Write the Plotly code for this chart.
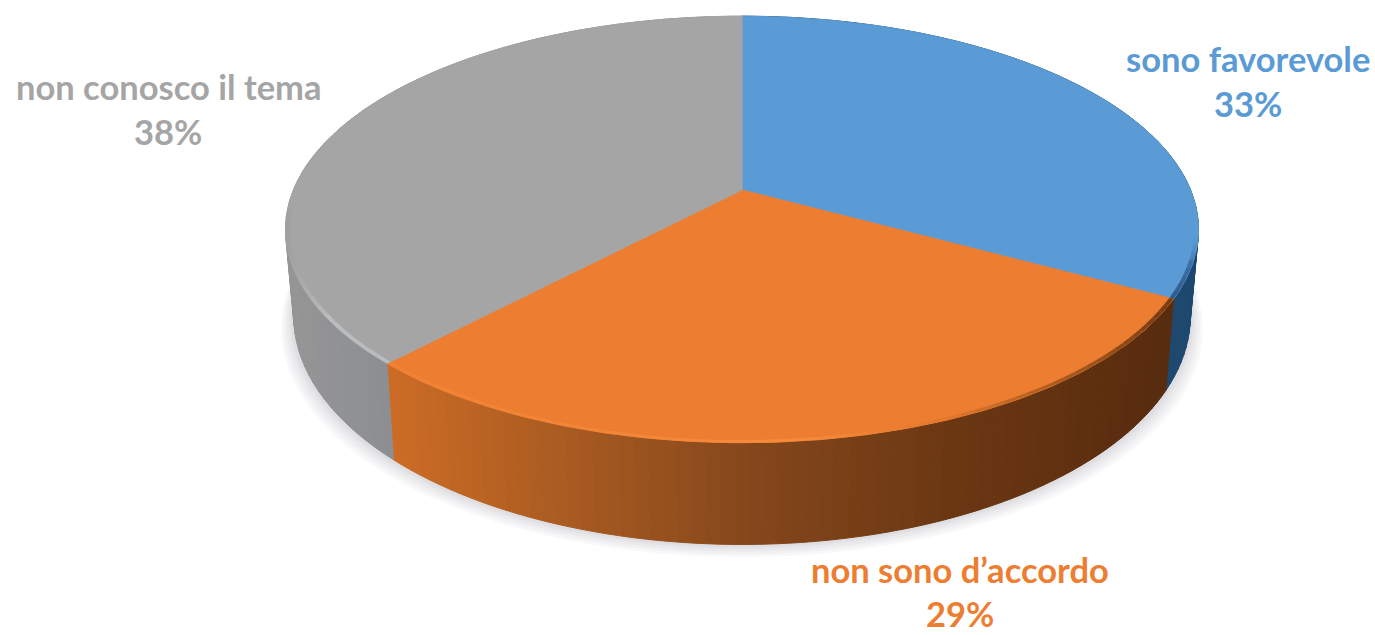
import numpy as np
import plotly.graph_objects as go

# Data
labels = ["sono favorevole", "non sono d’accordo", "non conosco il tema"]
percent = [33, 29, 38]
top_colors = ["#5b9bd5", "#ed7d31", "#a5a5a5"]
text_colors = ["#5b9bd5", "#ed7d31", "#a5a5a5"]

# Perspective of the disc, in page pixels
CX = 742
CY_TOP = 190
CY_BOTTOM = 274
HALF_W = 448.6
HALF_H = 206
K = 0.185
BOTTOM_X = 0.982
BOTTOM_Y = 1.07

# wall colours at screen x: left edge -> right edge of the pie
wall_stops = {
    0: [(290, (30, 72, 110)), (1200, (30, 72, 110))],
    1: [(390, (205, 108, 38)), (560, (170, 92, 34)), (742, (135, 72, 28)), (950, (108, 56, 20)), (1165, (88, 44, 14))],
    2: [(285, (150, 150, 150)), (395, (140, 142, 146))],
}
# bevel colours along the top rim
rim_stops = {
    0: [(1170, (45, 85, 125)), (1192, (60, 110, 165)), (1198, (91, 155, 213))],
    1: [(390, (240, 130, 52)), (800, (246, 140, 62)), (950, (225, 120, 45)), (1165, (120, 62, 20))],
    2: [(285, (160, 160, 160)), (330, (188, 190, 192)), (390, (182, 188, 194))],
}
# rim is only drawn on the near part of the disc
rim_limit = [-0.18, 1.0, -0.1]


def project(theta, r=1.0, bottom=False):
    x = r * np.sin(theta)
    y = r * np.cos(theta)
    w = 1 + K * y
    if bottom:
        return CX + BOTTOM_X * HALF_W * x / w, CY_BOTTOM - BOTTOM_Y * HALF_H * y / w
    return CX + HALF_W * x / w, CY_TOP - HALF_H * y / w


def shade(stops, x):
    xs = [s[0] for s in stops]
    rgb = [np.interp(x, xs, [s[1][i] for s in stops]) for i in range(3)]
    return "rgb(%d,%d,%d)" % tuple(rgb)


def poly(xs, ys, color, line=True):
    return go.Scatter(
        x=list(xs),
        y=list(ys),
        mode="lines",
        fill="toself",
        fillcolor=color,
        line=dict(color=color, width=1 if line else 0),
        hoverinfo="skip",
        showlegend=False,
    )


edges = np.cumsum([0] + percent) / sum(percent) * 2 * np.pi
fig = go.Figure()

# soft shadow under the pie
ring = np.linspace(0, 2 * np.pi, 200)
for grow in [14, 11, 8, 5, 3]:
    bx, by = project(ring, bottom=True)
    bx = CX + (bx - CX) * (1 + grow / 500)
    by = by + grow * 0.9
    fig.add_trace(poly(bx, by, "rgba(120,125,130,0.05)", line=False))

# side walls
for i in range(len(percent)):
    steps = np.linspace(edges[i], edges[i + 1], 70)
    for a, b in zip(steps[:-1], steps[1:]):
        x1, y1 = project(a)
        x2, y2 = project(b)
        x3, y3 = project(b, bottom=True)
        x4, y4 = project(a, bottom=True)
        color = shade(wall_stops[i], (x1 + x2) / 2)
        fig.add_trace(poly([x1, x2, x3, x4, x1], [y1, y2, y3, y4, y1], color))

# top faces
for i in range(len(percent)):
    theta = np.linspace(edges[i], edges[i + 1], 160)
    x, y = project(theta)
    fig.add_trace(poly(np.r_[CX, x, CX], np.r_[CY_TOP, y, CY_TOP], top_colors[i]))

# bevel along the rim
for i in range(len(percent)):
    steps = np.linspace(edges[i], edges[i + 1], 60)
    for a, b in zip(steps[:-1], steps[1:]):
        if np.cos((a + b) / 2) > rim_limit[i]:
            continue
        x1, y1 = project(a)
        x2, y2 = project(b)
        x3, y3 = project(b, r=0.991)
        x4, y4 = project(a, r=0.991)
        color = shade(rim_stops[i], (x1 + x2) / 2)
        fig.add_trace(poly([x1, x2, x3, x4, x1], [y1, y2, y3, y4, y1], color, line=False))

# data labels, one text per line as in the reference
label_pos = [(1248, 58, 103), (960, 569, 613), (168, 86, 131)]
for i, (px, py1, py2) in enumerate(label_pos):
    for text, py in [(labels[i], py1), ("%d%%" % percent[i], py2)]:
        fig.add_annotation(
            x=px,
            y=py,
            text=text,
            showarrow=False,
            font=dict(family="Lato", size=34.5, color=text_colors[i], weight="bold"),
        )

fig.update_xaxes(range=[0, 1375], visible=False, fixedrange=True)
fig.update_yaxes(range=[635, 0], visible=False, fixedrange=True)
fig.update_layout(
    width=1375,
    height=635,
    margin=dict(l=0, r=0, t=0, b=0),
    paper_bgcolor="white",
    plot_bgcolor="white",
    showlegend=False,
)

# drop the default body margin so the figure fills the window
fig.write_html(
    "out.html",
    config=dict(displayModeBar=False),
    post_script="document.body.style.margin='0';document.documentElement.style.overflow='hidden';",
)
